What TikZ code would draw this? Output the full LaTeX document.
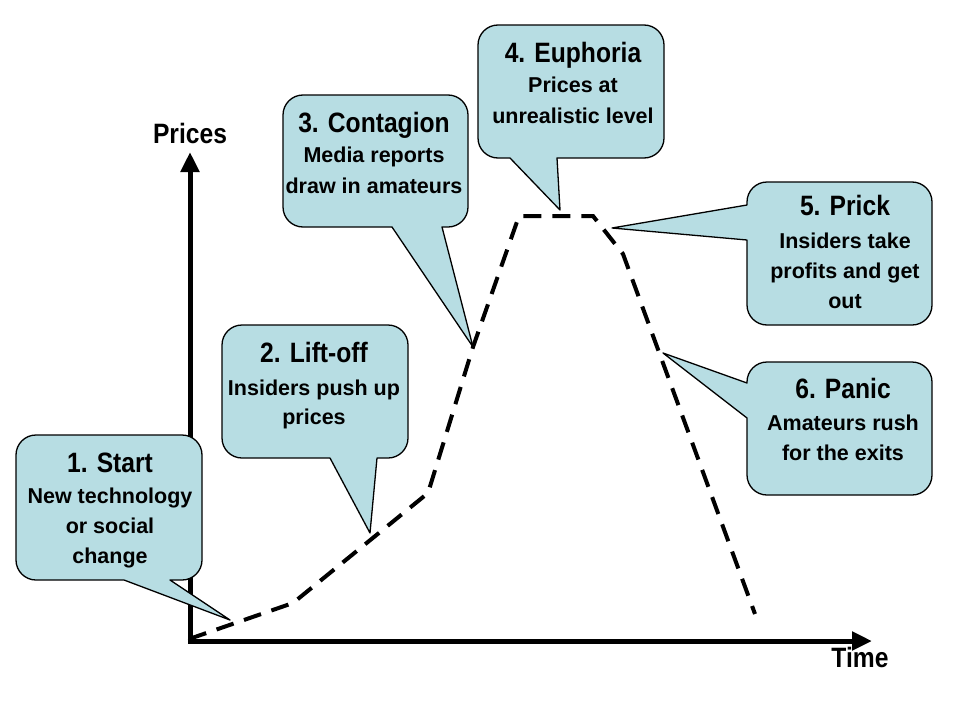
\documentclass[tikz,border=0pt]{standalone}
\usepackage{fontspec}
\setmainfont[FakeStretch=0.88]{Liberation Sans}
\newfontfamily\bodyfont{Liberation Sans}
\usetikzlibrary{arrows.meta}
\definecolor{callfill}{RGB}{183,221,227}
\begin{document}
\begin{tikzpicture}[x=1pt,y=-1pt,
  callout/.style={draw=black,line width=1.3pt,fill=callfill,line join=round},
  ttl/.style={anchor=base,inner sep=0pt,font=\fontsize{28}{30}\selectfont\bfseries},
  body/.style={anchor=base,inner sep=0pt,font=\bodyfont\fontsize{21.5}{30}\selectfont\bfseries},
  axis/.style={line width=5pt,-{Triangle[length=20pt,width=18pt]}},
  curve/.style={line width=4pt,dash pattern=on 18pt off 11pt}]
\useasboundingbox (0,0) rectangle (960,720);
% axes
\coordinate (O) at (190,641);
\coordinate (Ytip) at (190,152);
\coordinate (Xtip) at (872,641);
\draw[axis] (190,643.5) -- (Ytip);
\draw[axis] (187.5,641) -- (Xtip);
\node[ttl] (prices) at (190,143) {Prices};
\node[ttl] (time) at (860,667) {Time};
% curve
\coordinate (c0) at (192,638);
\coordinate (c1) at (293,603);
\coordinate (c2) at (428,493);
\coordinate (c3) at (473,347);
\coordinate (c4) at (519,216);
\coordinate (c5) at (593,216);
\coordinate (c6) at (623,254);
\coordinate (c7) at (755,614);
\draw[curve,dash phase=3pt] (c0) -- (c1) -- (c2) -- (c3) -- (c4) -- (c5) -- (c6) -- (c7);
% callout 1
\coordinate (t1) at (230,620);
\draw[callout] (t1) -- (170,580) [rounded corners=20] -- (202,580) -- (202,435) -- (16,435) -- (16,580) [sharp corners] -- (124,580) -- cycle;
\node[ttl] (s1a) at (110,472) {1. Start};
\node[body] (s1b) at (110,503) {New technology};
\node[body] (s1c) at (110,533) {or social};
\node[body] (s1d) at (110,563) {change};
% callout 2
\coordinate (t2) at (370,533);
\draw[callout] (t2) -- (377,458) [rounded corners=20] -- (408,458) -- (408,325) -- (222,325) -- (222,458) [sharp corners] -- (330,458) -- cycle;
\node[ttl] (s2a) at (314,362) {2. Lift-off};
\node[body] (s2b) at (314,395) {Insiders push up};
\node[body] (s2c) at (314,424) {prices};
% callout 3
\coordinate (t3) at (473,347);
\draw[callout] (t3) -- (442,227) [rounded corners=20] -- (468,227) -- (468,95) -- (283,95) -- (283,227) [sharp corners] -- (392,227) -- cycle;
\node[ttl] (s3a) at (374,132) {3. Contagion};
\node[body] (s3b) at (374,162) {Media reports};
\node[body] (s3c) at (374,193) {draw in amateurs};
% callout 4
\coordinate (t4) at (560,210);
\draw[callout] (t4) -- (557,158) [rounded corners=20] -- (664,158) -- (664,25) -- (478,25) -- (478,158) [sharp corners] -- (510,158) -- cycle;
\node[ttl] (s4a) at (573,62) {4. Euphoria};
\node[body] (s4b) at (573,92) {Prices at};
\node[body] (s4c) at (573,123) {unrealistic level};
% callout 5
\coordinate (t5) at (612,228);
\draw[callout] (t5) -- (747,240) [rounded corners=20] -- (747,325) -- (932,325) -- (932,182) -- (747,182) [sharp corners] -- (747,205) -- cycle;
\node[ttl] (s5a) at (845,215) {5. Prick};
\node[body] (s5b) at (845,248) {Insiders take};
\node[body] (s5c) at (845,278) {profits and get};
\node[body] (s5d) at (845,308) {out};
% callout 6
\coordinate (t6) at (663,353);
\draw[callout] (t6) -- (747,418) [rounded corners=20] -- (747,495) -- (932,495) -- (932,362) -- (747,362) [sharp corners] -- (747,383) -- cycle;
\node[ttl] (s6a) at (843,398) {6. Panic};
\node[body] (s6b) at (843,430) {Amateurs rush};
\node[body] (s6c) at (843,460) {for the exits};
\end{tikzpicture}
\end{document}
